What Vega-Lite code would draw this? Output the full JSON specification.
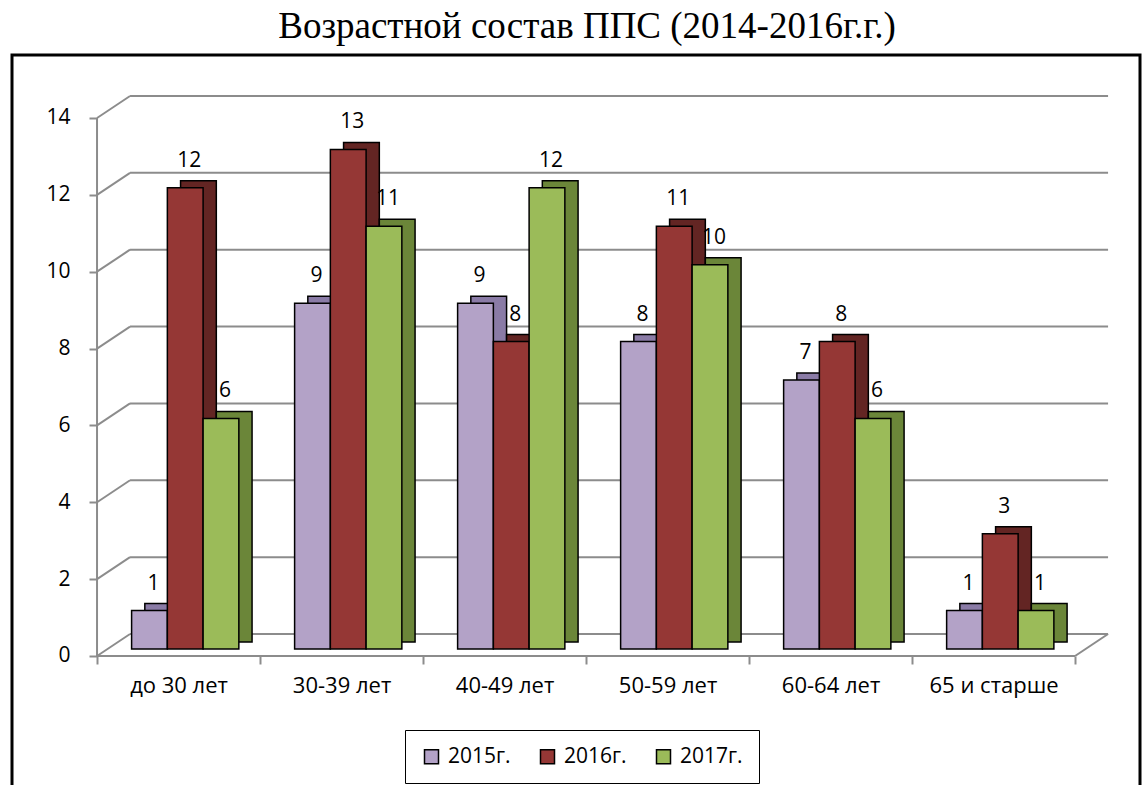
{
  "$schema": "https://vega.github.io/schema/vega-lite/v6.json",
  "autosize": "none",
  "width": 1128,
  "height": 735,
  "padding": {"left": 12, "top": 55, "right": 7, "bottom": 0},
  "background": "white",
  "title": {
    "text": "Возрастной состав ППС (2014-2016г.г.)",
    "font": "Liberation Serif",
    "fontSize": 37,
    "fontWeight": "normal",
    "color": "black",
    "anchor": "middle",
    "frame": "group",
    "baseline": "alphabetic",
    "offset": 10,
    "dx": 11,
    "dy": 30
  },
  "config": {
    "view": {"stroke": "black", "strokeWidth": 3},
    "font": "Open Sans"
  },
  "datasets": {
    "bars": [
      {"age": "до 30 лет", "year": "2015г.", "value": 1},
      {"age": "до 30 лет", "year": "2016г.", "value": 12},
      {"age": "до 30 лет", "year": "2017г.", "value": 6},
      {"age": "30-39 лет", "year": "2015г.", "value": 9},
      {"age": "30-39 лет", "year": "2016г.", "value": 13},
      {"age": "30-39 лет", "year": "2017г.", "value": 11},
      {"age": "40-49 лет", "year": "2015г.", "value": 9},
      {"age": "40-49 лет", "year": "2016г.", "value": 8},
      {"age": "40-49 лет", "year": "2017г.", "value": 12},
      {"age": "50-59 лет", "year": "2015г.", "value": 8},
      {"age": "50-59 лет", "year": "2016г.", "value": 11},
      {"age": "50-59 лет", "year": "2017г.", "value": 10},
      {"age": "60-64 лет", "year": "2015г.", "value": 7},
      {"age": "60-64 лет", "year": "2016г.", "value": 8},
      {"age": "60-64 лет", "year": "2017г.", "value": 6},
      {"age": "65 и старше", "year": "2015г.", "value": 1},
      {"age": "65 и старше", "year": "2016г.", "value": 3},
      {"age": "65 и старше", "year": "2017г.", "value": 1}
    ],
    "grid": [{"v": 0}, {"v": 2}, {"v": 4}, {"v": 6}, {"v": 8}, {"v": 10}, {"v": 12}, {"v": 14}],
    "one": [{"v": 0}]
  },
  "resolve": {"scale": {"color": "independent", "xOffset": "independent"}},
  "layer": [
    {
      "data": {"name": "grid"},
      "mark": {"type": "rule", "color": "#8c8c8c", "strokeWidth": 2, "xOffset": 33, "x2Offset": 33, "yOffset": -22},
      "encoding": {
        "x": {"datum": "до 30 лет", "bandPosition": 0, "type": "nominal",
              "scale": {"domain": ["до 30 лет", "30-39 лет", "40-49 лет", "50-59 лет", "60-64 лет", "65 и старше"], "paddingInner": 0, "paddingOuter": 0.46, "align": 0.567},
              "axis": {"orient": "bottom", "offset": -134, "title": null, "labelAngle": 0, "domain": false,
                       "tickBand": "extent", "tickColor": "#8c8c8c", "tickWidth": 2, "tickSize": 8,
                       "labelFont": "Open Sans", "labelFontSize": 22, "labelColor": "black", "labelPadding": 11}},
        "x2": {"datum": "65 и старше", "bandPosition": 1},
        "y": {"field": "v", "type": "quantitative", "scale": {"domain": [-3.487, 15.639], "nice": false, "zero": false},
              "axis": {"orient": "left", "offset": -85, "title": null, "values": [0, 2, 4, 6, 8, 10, 12, 14],
                       "domain": false, "grid": false, "tickColor": "#8c8c8c", "tickWidth": 2, "tickSize": 8,
                       "labelFont": "Open Sans", "labelFontSize": 21, "labelColor": "black", "labelPadding": 19}}
      }
    },
    {
      "data": {"name": "grid"},
      "mark": {"type": "rule", "color": "#8c8c8c", "strokeWidth": 2, "x2Offset": 33, "y2Offset": -22},
      "encoding": {
        "x": {"datum": "до 30 лет", "bandPosition": 0, "type": "nominal"},
        "x2": {"datum": "до 30 лет", "bandPosition": 0},
        "y": {"field": "v", "type": "quantitative"},
        "y2": {"field": "v"}
      }
    },
    {
      "data": {"name": "one"},
      "mark": {"type": "rule", "color": "#8c8c8c", "strokeWidth": 2, "x2Offset": 33, "y2Offset": -22},
      "encoding": {
        "x": {"datum": "65 и старше", "bandPosition": 1, "type": "nominal"},
        "x2": {"datum": "65 и старше", "bandPosition": 1},
        "y": {"field": "v", "type": "quantitative"},
        "y2": {"field": "v"}
      }
    },
    {
      "data": {"name": "one"},
      "mark": {"type": "rule", "color": "#8c8c8c", "strokeWidth": 2},
      "encoding": {
        "x": {"datum": "до 30 лет", "bandPosition": 0, "type": "nominal"},
        "x2": {"datum": "65 и старше", "bandPosition": 1},
        "y": {"field": "v", "type": "quantitative"}
      }
    },
    {
      "data": {"name": "one"},
      "mark": {"type": "rule", "color": "#8c8c8c", "strokeWidth": 2},
      "encoding": {
        "x": {"datum": "до 30 лет", "bandPosition": 0, "type": "nominal"},
        "y": {"datum": 0, "type": "quantitative"},
        "y2": {"datum": 14}
      }
    },
    {
      "data": {"name": "bars"},
      "mark": {"type": "bar", "yOffset": -14, "y2Offset": -14, "stroke": "black", "strokeWidth": 1.5},
      "encoding": {
        "x": {"field": "age", "type": "nominal", "sort": null},
        "xOffset": {"field": "year", "type": "nominal", "scale": {"paddingInner": 0, "paddingOuter": 0.78, "align": 0.857}},
        "y": {"field": "value", "type": "quantitative"},
        "color": {"field": "year", "type": "nominal", "legend": null,
                  "scale": {"domain": ["2015г.", "2016г.", "2017г."], "range": ["#8a7ba6", "#632523", "#6b8639"]}}
      }
    },
    {
      "data": {"name": "bars"},
      "layer": [
        {
          "mark": {"type": "bar", "yOffset": -7, "y2Offset": -7, "stroke": "black", "strokeWidth": 1.5},
          "encoding": {
            "x": {"field": "age", "type": "nominal", "sort": null},
            "xOffset": {"field": "year", "type": "nominal", "scale": {"paddingInner": 0, "paddingOuter": 0.78, "align": 0.62}},
            "y": {"field": "value", "type": "quantitative"},
            "color": {"field": "year", "type": "nominal",
                      "scale": {"domain": ["2015г.", "2016г.", "2017г."], "range": ["#b3a2c7", "#953735", "#9bbb59"]},
                      "legend": {"orient": "none", "legendX": 393, "legendY": 675, "direction": "horizontal", "title": null,
                                 "strokeColor": "black", "fillColor": "white", "padding": 16,
                                 "symbolType": "square", "symbolSize": 196, "symbolStrokeColor": "black", "symbolStrokeWidth": 1.5,
                                 "labelFont": "Open Sans", "labelFontSize": 21, "labelColor": "black", "labelOffset": 6, "columnPadding": 26}}
          }
        },
        {
          "mark": {"type": "text", "yOffset": -7, "dy": -27, "dx": 4, "baseline": "middle", "font": "Open Sans", "fontSize": 21, "color": "black"},
          "encoding": {
            "x": {"field": "age", "type": "nominal", "sort": null},
            "xOffset": {"field": "year", "type": "nominal"},
            "y": {"field": "value", "type": "quantitative"},
            "text": {"field": "value", "type": "quantitative"}
          }
        }
      ]
    }
  ]
}
